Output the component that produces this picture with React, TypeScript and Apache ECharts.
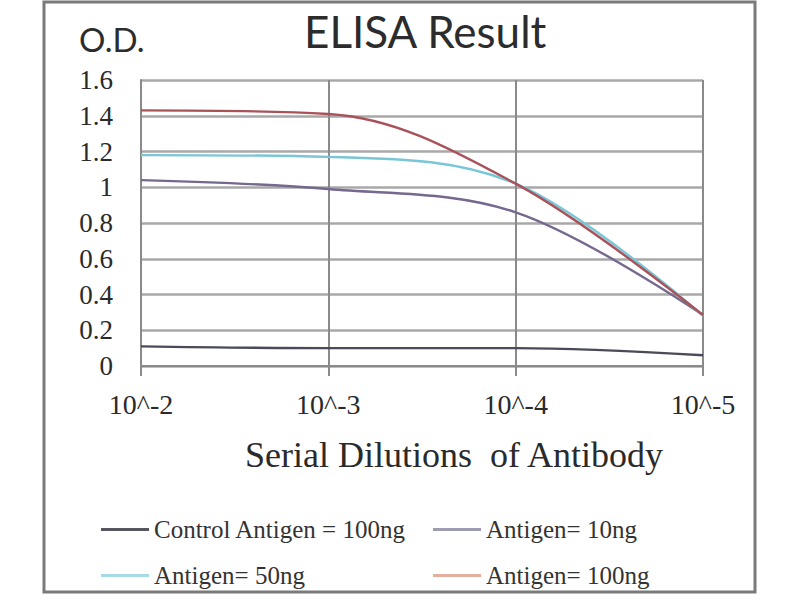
import React, { useEffect, useRef } from "react";
import * as echarts from "echarts";

const dilutions = ["10^-2", "10^-3", "10^-4", "10^-5"];
const seriesNames = ["Control Antigen = 100ng", "Antigen= 10ng", "Antigen= 50ng", "Antigen= 100ng"];
const control100 = [0.11, 0.1, 0.1, 0.06];
const antigen10 = [1.04, 0.99, 0.86, 0.285];
const antigen50 = [1.18, 1.17, 1.02, 0.28];
const antigen100 = [1.43, 1.41, 1.02, 0.285];
const yTicks = [0, 0.2, 0.4, 0.6, 0.8, 1, 1.2, 1.4, 1.6];

const lineColors = ["#4a4a58", "#76688e", "#78c6d6", "#a9525a"];
const legendColors = ["#55555f", "#9d9cb2", "#a6dbe6", "#e6ae9e"];

export default function App() {
  const ref = useRef<HTMLDivElement>(null);
  useEffect(() => {
    if (!ref.current) return;
    const chart = echarts.init(ref.current, null, { renderer: "svg" });
    const values = [control100, antigen10, antigen50, antigen100];
    const legendPos = [
      { left: 96, top: 512 },
      { left: 428, top: 512 },
      { left: 96, top: 558 },
      { left: 428, top: 558 },
    ];
    chart.setOption({
      animation: false,
      backgroundColor: "#ffffff",
      grid: { left: 141, right: 97, top: 80, bottom: 234 },
      xAxis: {
        type: "category",
        data: dilutions,
        boundaryGap: false,
        axisLine: { show: true, lineStyle: { color: "#8a8a8a", width: 2 } },
        axisTick: { show: true, length: 10, lineStyle: { color: "#8a8a8a", width: 2 } },
        splitLine: { show: true, lineStyle: { color: "#8a8a8a", width: 2 } },
        axisLabel: {
          margin: 24,
          fontFamily: "Liberation Serif",
          fontSize: 28,
          color: "#2a2a2a",
        },
      },
      yAxis: {
        type: "value",
        min: 0,
        max: 1.6,
        interval: 0.2,
        axisLine: { show: true, lineStyle: { color: "#8a8a8a", width: 2 } },
        axisTick: { show: false },
        splitLine: { show: true, lineStyle: { color: "#a8a8a8", width: 2.5 } },
        axisLabel: {
          margin: 28,
          fontFamily: "Liberation Serif",
          fontSize: 27,
          color: "#2a2a2a",
          formatter: (v: number) => {
            const t = yTicks.find((y) => Math.abs(y - v) < 1e-6);
            return String(t !== undefined ? t : v);
          },
        },
      },
      legend: seriesNames.map((name, i) => ({
        data: [{ name, itemStyle: { color: legendColors[i] } }],
        left: legendPos[i].left,
        top: legendPos[i].top,
        icon: "rect",
        itemWidth: 48,
        itemHeight: 3,
        itemGap: 4,
        selectedMode: false,
        textStyle: { fontFamily: "Liberation Serif", fontSize: 25, color: "#333333" },
      })),
      series: seriesNames.map((name, i) => ({
        name,
        type: "line",
        data: values[i],
        smooth: 0.35,
        symbol: "none",
        lineStyle: { color: lineColors[i], width: 2.4 },
        itemStyle: { color: legendColors[i] },
      })),
      graphic: [
        {
          type: "rect",
          shape: { x: 44, y: 2, width: 711, height: 590 },
          style: { fill: "none", stroke: "#7a7a7a", lineWidth: 3 },
          z: 100,
        },
        {
          type: "text",
          left: 304,
          top: 9,
          style: {
            text: "ELISA Result",
            font: "44px Lato",
            fill: "#2c2c2c",
          },
        },
        {
          type: "text",
          left: 79,
          top: 22,
          style: {
            text: "O.D.",
            font: "33px Lato",
            fill: "#2c2c2c",
          },
        },
        {
          type: "text",
          left: 245,
          top: 437,
          style: {
            text: "Serial Dilutions  of Antibody",
            font: "36px Liberation Serif",
            fill: "#2a2a2a",
          },
        },
      ],
    });
    return () => chart.dispose();
  }, []);
  return (
    <div
      ref={ref}
      style={{ position: "fixed", left: 0, top: 0, width: 800, height: 600 }}
    />
  );
}
